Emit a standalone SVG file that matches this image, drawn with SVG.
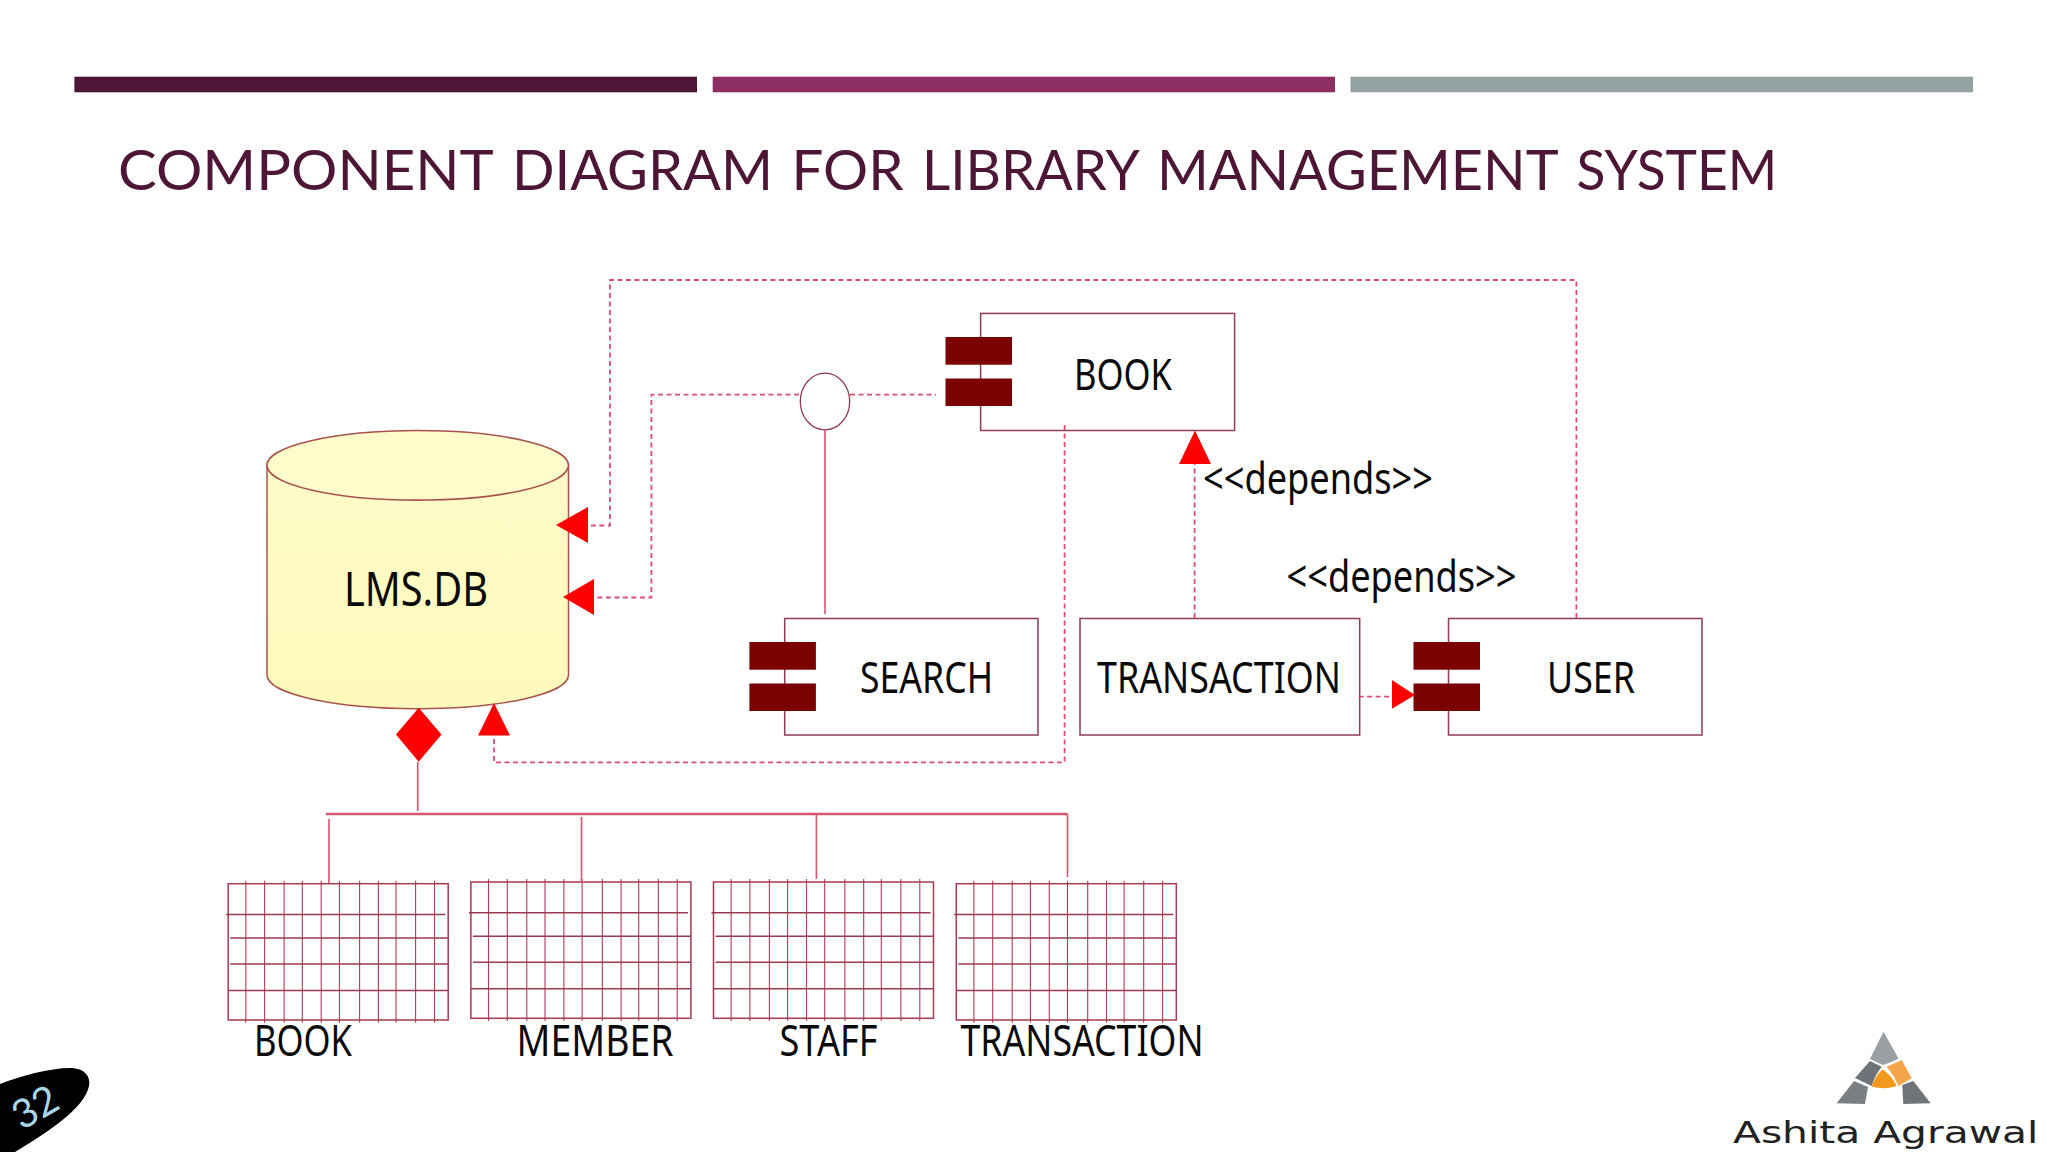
<svg xmlns="http://www.w3.org/2000/svg" width="2048" height="1152" viewBox="0 0 2048 1152">
<style>
.box{fill:#fff;stroke:#8f3d50;stroke-width:1.5}
.tab{fill:#7b0000;stroke:none}
.dash{fill:none;stroke:#d9506c;stroke-width:1.8;stroke-dasharray:5 3.5}
.solid{fill:none;stroke:#d5566e;stroke-width:1.6}
.head{fill:#fe0000;stroke:none}
.lbl{font-family:"Noto Sans","Open Sans",sans-serif;font-size:44px;fill:#0a0a0a}
.gridline{fill:none;stroke:#b23a55;stroke-width:1.1}
.gridh{fill:none;stroke:#9a3a50;stroke-width:1.5}
</style>
<defs>
<linearGradient id="cyl" x1="0" y1="0" x2="0" y2="1"><stop offset="0" stop-color="#fffbc8"/><stop offset="1" stop-color="#fffabb"/></linearGradient>
<g id="tabs"><rect class="tab" x="0" y="0" width="66.500" height="27.700"/><rect class="tab" x="0" y="41.500" width="66.500" height="27.500"/></g>
<g id="grid">
<rect x="0" y="0" width="220" height="136.300" fill="#fff" stroke="#a63a52" stroke-width="1.500"/>
<path class="gridline" d="M17.600-3V139M36.400-3V139M55.900-3V139M74.100-3V139M93-3V139M111.200-3V139M131.400-3V139M150.200-3V139M167.800-3V139M187.400-3V139M206.300-3V139"/>
<path class="gridh" d="M-2 30.700H217M2 54.300H220M2 80.300H220M0 106.700H220"/>
</g>
</defs>
<rect width="2048" height="1152" fill="#fff"/>
<g id="header">
<rect x="74.400" y="76.700" width="622.600" height="15.600" fill="#4d1636"/>
<rect x="712.700" y="76.700" width="622.300" height="15.600" fill="#8e2f63"/>
<rect x="1350.500" y="76.700" width="622.500" height="15.600" fill="#94a1a3"/>
<text y="190" font-family="Lato,'Open Sans',sans-serif" font-size="57" fill="#4d1636"><tspan x="118" textLength="374" lengthAdjust="spacingAndGlyphs">COMPONENT</tspan> <tspan x="512" textLength="261" lengthAdjust="spacingAndGlyphs">DIAGRAM</tspan> <tspan x="791.500" textLength="112" lengthAdjust="spacingAndGlyphs">FOR</tspan> <tspan x="922" textLength="215.500" lengthAdjust="spacingAndGlyphs">LIBRARY</tspan> <tspan x="1157" textLength="400" lengthAdjust="spacingAndGlyphs">MANAGEMENT</tspan> <tspan x="1576.400" textLength="201" lengthAdjust="spacingAndGlyphs">SYSTEM</tspan></text>
</g>
<g id="node-lmsdb">
<path d="M267 465V675C267 694 335 708.700 417.700 708.700S568.500 694 568.500 675V465Z" fill="url(#cyl)" stroke="#a8544e" stroke-width="1.500"/>
<ellipse cx="417.700" cy="465.300" rx="150.800" ry="34.800" fill="#fffbcb" stroke="#a8544e" stroke-width="1.600"/>
<text class="lbl" x="344" y="606" style="font-size:48px" textLength="144" lengthAdjust="spacingAndGlyphs">LMS.DB</text>
</g>
<g id="node-book">
<rect class="box" x="980.600" y="313.400" width="254" height="117.100"/>
<use href="#tabs" x="945.500" y="337"/>
<text class="lbl" x="1074" y="390" textLength="98" lengthAdjust="spacingAndGlyphs">BOOK</text>
</g>
<g id="node-search">
<rect class="box" x="784.700" y="618.500" width="253.300" height="116.500"/>
<use href="#tabs" x="749.400" y="642"/>
<text class="lbl" x="860" y="693" textLength="133" lengthAdjust="spacingAndGlyphs">SEARCH</text>
</g>
<g id="node-transaction">
<rect class="box" x="1080" y="618.500" width="279.700" height="116.500"/>
<text class="lbl" x="1097" y="693" textLength="244" lengthAdjust="spacingAndGlyphs">TRANSACTION</text>
</g>
<g id="node-user">
<rect class="box" x="1448.500" y="618.500" width="253.500" height="116.500"/>
<use href="#tabs" x="1413.500" y="642"/>
<text class="lbl" x="1547" y="693" textLength="88" lengthAdjust="spacingAndGlyphs">USER</text>
</g>
<g id="node-interface">
<ellipse cx="825" cy="401.500" rx="24.700" ry="28.300" fill="#fff" stroke="#8f3d50" stroke-width="1.300"/>
</g>
<g id="node-table-book">
<use href="#grid" x="228.200" y="883.700"/>
<text class="lbl" x="254" y="1056" textLength="98" lengthAdjust="spacingAndGlyphs">BOOK</text>
</g>
<g id="node-table-member">
<use href="#grid" x="470.900" y="882"/>
<text class="lbl" x="516.500" y="1056" textLength="157" lengthAdjust="spacingAndGlyphs">MEMBER</text>
</g>
<g id="node-table-staff">
<use href="#grid" x="713.500" y="882"/>
<text class="lbl" x="779.500" y="1056" textLength="98" lengthAdjust="spacingAndGlyphs">STAFF</text>
</g>
<g id="node-table-transaction">
<use href="#grid" x="956.300" y="883.700"/>
<text class="lbl" x="960.500" y="1056" textLength="243" lengthAdjust="spacingAndGlyphs">TRANSACTION</text>
</g>
<g id="connectors">
<path class="dash" d="M1576.400 618V280H610V525.500H588"/>
<path class="dash" d="M850 394.600H936M799 394.600H651.400V597.500H594"/>
<path class="dash" d="M1064.600 425V762.400H494V736"/>
<path class="dash" d="M1194.600 618V464"/>
<path class="dash" d="M1358.600 696.600H1392"/>
<path class="solid" d="M825 430V614"/>
<path class="solid" d="M417.700 762V811"/>
<path class="solid" style="stroke-width:2.400" d="M325.800 814H1067.500"/>
<path class="solid" d="M329 819V883M581.500 817V882M816.400 814V879M1067.500 814V877"/>
<polygon class="head" points="556,525 588,507 588,543"/>
<polygon class="head" points="563,597 594,579 594,615"/>
<polygon class="head" points="494,703 478,735.600 510,735.600"/>
<polygon class="head" points="1195,430.500 1179,464 1211,464"/>
<polygon class="head" points="1415,695 1392,680 1392,708.700"/>
<polygon class="head" points="418.700,707.700 441.500,734.500 418.700,761.700 396,734.500"/>
</g>
<g id="labels">
<text class="lbl" x="1203" y="494" textLength="230" lengthAdjust="spacingAndGlyphs">&lt;&lt;depends&gt;&gt;</text>
<text class="lbl" x="1286.500" y="592" textLength="230" lengthAdjust="spacingAndGlyphs">&lt;&lt;depends&gt;&gt;</text>
</g>
<g id="page-number">
<path d="M0 1084C20 1076 50 1068 70 1068C85 1068 91 1077 89 1086C85 1105 60 1125 15 1152H0Z" fill="#000"/>
<text x="35" y="1121" transform="rotate(-30 35 1107)" text-anchor="middle" font-family="Lato,sans-serif" font-size="40" fill="#a9d6e6">32</text>
</g>
<g id="logo">
<path d="M1883.500 1031.700L1898.500 1058.500Q1891 1063 1883 1065Q1876 1062 1870 1059Z" fill="#9b9ea2"/>
<path d="M1870 1061L1881.700 1066.700Q1875 1075 1871.700 1086L1855 1078Z" fill="#6d7378"/>
<path d="M1854 1081L1868 1087L1865 1104L1836.700 1103.300Z" fill="#7a7f84"/>
<path d="M1882.700 1069.300Q1892 1076 1896.700 1086Q1885 1090 1871.700 1086.700Q1875 1076 1882.700 1069.300Z" fill="#f39a1e"/>
<path d="M1886.700 1066.700L1901.700 1060L1911.700 1078.300L1898.300 1086Q1894 1075 1886.700 1066.700Z" fill="#f5a54a"/>
<path d="M1902.300 1085L1913.300 1081L1930.700 1103.300L1903.300 1104Z" fill="#6f7478"/>
<text x="1733" y="1143.300" font-family="'DejaVu Sans',sans-serif" font-size="30" fill="#222" textLength="305.300" lengthAdjust="spacingAndGlyphs">Ashita Agrawal</text>
</g>
</svg>
